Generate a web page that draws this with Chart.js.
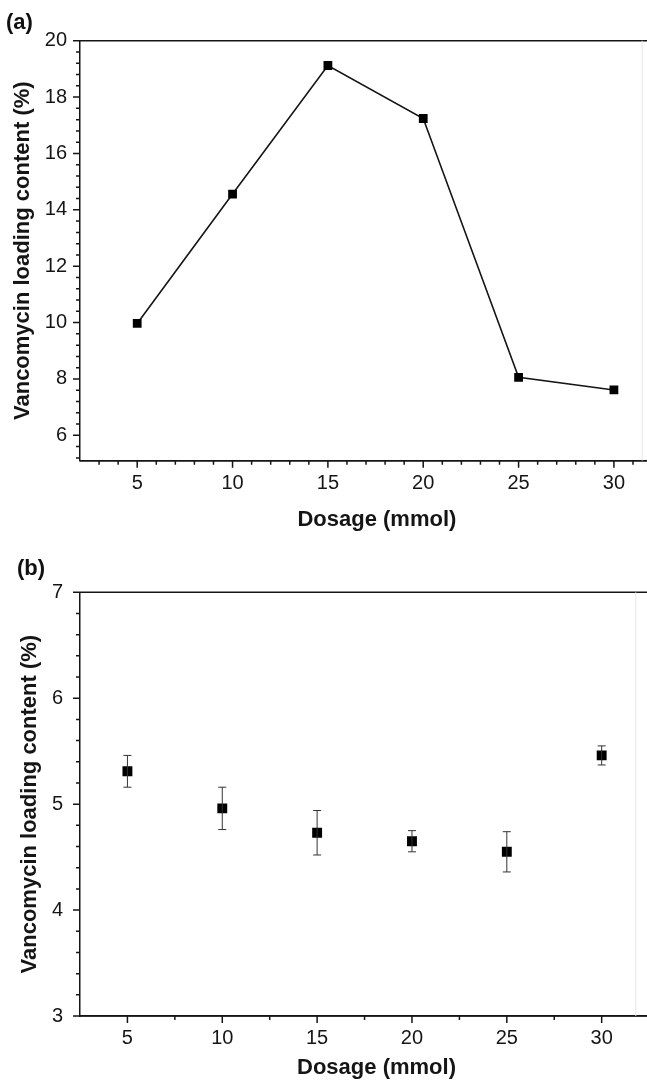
<!DOCTYPE html>
<html><head><meta charset="utf-8">
<script src="https://cdn.jsdelivr.net/npm/chart.js@4.4.0/dist/chart.umd.min.js"></script>
<style>
html,body{margin:0;padding:0;background:#fff;width:647px;height:1083px;overflow:hidden;position:relative;}
canvas{position:absolute;left:0;}
.panel{position:absolute;font:bold 22px "Liberation Sans",Arial,sans-serif;color:#111;line-height:22px;}
</style></head><body>
<canvas id="ca" width="680" height="541" style="top:0"></canvas>
<canvas id="cb" width="680" height="542" style="top:541px"></canvas>
<div class="panel" style="left:6px;top:11px">(a)</div>
<div class="panel" style="left:17px;top:557px">(b)</div>
<script>
// ---- data ----
const dosage = [5, 10, 15, 20, 25, 30];
const loadingA = [9.97, 14.56, 19.12, 17.24, 8.06, 7.61];
const loadingB = [5.31, 4.96, 4.73, 4.65, 4.55, 5.46];
const errorB = [0.15, 0.20, 0.21, 0.10, 0.19, 0.09];
const xTickLabels = [5, 10, 15, 20, 25, 30];
const yTickLabelsA = [6, 8, 10, 12, 14, 16, 18, 20];
const yTickLabelsB = [3, 4, 5, 6, 7];
const xTitle = 'Dosage (mmol)';
const yTitle = 'Vancomycin loading content (%)';

const FONT = '"Liberation Sans", Arial, sans-serif';
const INK = '#151515';

function range(a, b, step) { const r = []; for (let v = a; v <= b + 1e-9; v += step) r.push(Math.round(v * 1000) / 1000); return r; }

function decor(cfg) {
  return {
    id: 'decor',
    afterDraw(chart) {
      const { ctx, chartArea: a, scales: { x, y } } = chart;
      ctx.save();
      ctx.strokeStyle = INK; ctx.lineWidth = 1.5;
      ctx.beginPath();
      cfg.xMinor.forEach(v => { const p = x.getPixelForValue(v); ctx.moveTo(p, a.bottom); ctx.lineTo(p, a.bottom + 4); });
      cfg.xMajor.forEach(v => { const p = x.getPixelForValue(v); ctx.moveTo(p, a.bottom); ctx.lineTo(p, a.bottom + 7); });
      cfg.yMinor.forEach(v => { const p = y.getPixelForValue(v); ctx.moveTo(a.left, p); ctx.lineTo(a.left - 4, p); });
      cfg.yMajor.forEach(v => { const p = y.getPixelForValue(v); ctx.moveTo(a.left, p); ctx.lineTo(a.left - 7, p); });
      ctx.moveTo(a.left, a.top); ctx.lineTo(chart.width, a.top);
      ctx.moveTo(a.left, a.bottom); ctx.lineTo(chart.width, a.bottom);
      ctx.stroke();
      // faint right frame
      ctx.strokeStyle = '#e6e6e6'; ctx.lineWidth = 1;
      ctx.beginPath();
      const rp = x.getPixelForValue(cfg.frameX);
      ctx.moveTo(rp, a.top); ctx.lineTo(rp, a.bottom);
      ctx.stroke();
      ctx.restore();
    }
  };
}

const errorBars = {
  id: 'errorBars',
  afterDatasetsDraw(chart) {
    const { ctx, scales: { x, y } } = chart;
    ctx.save();
    ctx.strokeStyle = '#333'; ctx.lineWidth = 1;
    ctx.beginPath();
    dosage.forEach((d, i) => {
      const px = x.getPixelForValue(d);
      const hi = y.getPixelForValue(loadingB[i] + errorB[i]);
      const lo = y.getPixelForValue(loadingB[i] - errorB[i]);
      ctx.moveTo(px, hi); ctx.lineTo(px, lo);
      ctx.moveTo(px - 4, hi); ctx.lineTo(px + 4, hi);
      ctx.moveTo(px - 4, lo); ctx.lineTo(px + 4, lo);
    });
    ctx.stroke();
    ctx.restore();
  }
};

function makeOptions(p) {
  return {
    responsive: false,
    animation: false,
    events: [],
    layout: { padding: { top: p.top, right: 0, left: 0, bottom: 0 } },
    plugins: { legend: { display: false }, tooltip: { enabled: false } },
    scales: {
      x: {
        type: 'linear', min: p.xMin, max: p.xMax,
        afterBuildTicks: s => { s.ticks = xTickLabels.map(v => ({ value: v })); },
        afterFit: s => { s.height = p.xHeight; s.paddingLeft = 0; s.paddingRight = 0; },
        grid: { display: false, drawTicks: false },
        border: { display: true, color: INK, width: 1.5 },
        ticks: { padding: p.xPad, color: INK, font: { family: FONT, size: 20 }, autoSkip: false, maxRotation: 0 },
        title: { display: true, text: xTitle, color: INK, font: { family: FONT, size: 22, weight: 'bold' }, padding: { top: 0, bottom: p.xTitlePad } }
      },
      y: {
        type: 'linear', min: p.yMin, max: p.yMax,
        afterBuildTicks: s => { s.ticks = p.yTicks.map(v => ({ value: v })); },
        afterFit: s => { s.width = 80; s.paddingTop = 0; s.paddingBottom = 0; },
        grid: { display: false, drawTicks: false },
        border: { display: true, color: INK, width: 1.5 },
        ticks: { padding: p.yPad, color: INK, font: { family: FONT, size: 20 }, autoSkip: false },
        title: { display: true, text: yTitle, color: INK, font: { family: FONT, size: 22, weight: 'bold' }, padding: { top: p.yTitlePad, bottom: 0 } }
      }
    }
  };
}

new Chart(document.getElementById('ca'), {
  type: 'line',
  data: {
    datasets: [{
      data: dosage.map((d, i) => ({ x: d, y: loadingA[i] })),
      borderColor: INK, borderWidth: 1.6, backgroundColor: INK,
      pointStyle: 'rect', pointRadius: 6.2, pointBackgroundColor: '#000', pointBorderWidth: 0,
      tension: 0, fill: false
    }]
  },
  options: makeOptions({ top: 40.7, xMin: 2, xMax: 33.14, yMin: 5.1, yMax: 20, yTicks: yTickLabelsA,
    xHeight: 541 - 460.7, xPad: 11, xTitlePad: 8, yPad: 13, yTitlePad: 10 }),
  plugins: [decor({ xMajor: xTickLabels, xMinor: range(3, 33, 1), yMajor: yTickLabelsA, yMinor: range(5.2, 19.6, 0.4), frameX: 31.48 })]
});

new Chart(document.getElementById('cb'), {
  type: 'scatter',
  data: {
    datasets: [{
      data: dosage.map((d, i) => ({ x: d, y: loadingB[i] })),
      showLine: false, backgroundColor: '#000', borderWidth: 0,
      pointStyle: 'rect', pointRadius: 7, pointBorderWidth: 0
    }]
  },
  options: makeOptions({ top: 51.3, xMin: 2.5, xMax: 33.76, yMin: 3, yMax: 7, yTicks: yTickLabelsB,
    xHeight: 542 - 475, xPad: 10, xTitlePad: 2, yPad: 17, yTitlePad: 17 }),
  plugins: [errorBars, decor({ xMajor: xTickLabels, xMinor: range(7.5, 32.5, 5), yMajor: yTickLabelsB, yMinor: range(3.2, 6.8, 0.2), frameX: 31.8 })]
});
</script>
</body></html>
